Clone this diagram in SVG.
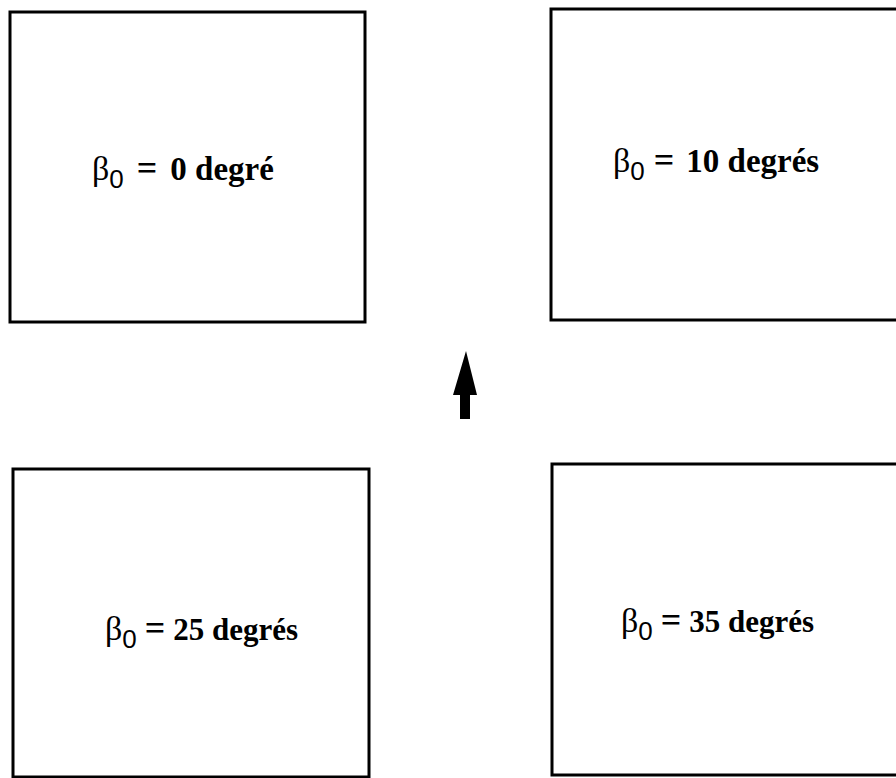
<svg xmlns="http://www.w3.org/2000/svg" width="896" height="778" viewBox="0 0 896 778">
<style>
.box{fill:none;stroke:#000;stroke-width:3}
.b{font-family:"Liberation Serif",serif;font-size:33px;font-weight:bold;fill:#000}
.s{font-size:31px}
.beta{font-weight:normal;font-size:34px}
.sub{font-family:"Liberation Sans",sans-serif;font-size:26px;font-weight:normal}
.eq{font-size:36px}
</style>
<rect width="896" height="778" fill="#fff"/>
<g id="node-0">
<rect class="box" x="10" y="12" width="355" height="310"/>
<text class="b" x="92" y="180"><tspan class="beta">β</tspan><tspan class="sub" dy="8">0</tspan><tspan class="eq" dx="13" dy="-8">=</tspan><tspan dx="13">0 degré</tspan></text>
</g>
<g id="node-10">
<rect class="box" x="551" y="9" width="360" height="311"/>
<text class="b" x="613" y="172"><tspan class="beta">β</tspan><tspan class="sub" dy="8">0</tspan><tspan class="eq" dx="9" dy="-8">=</tspan><tspan dx="12">10 degrés</tspan></text>
</g>
<g id="node-25">
<rect class="box" x="13" y="469" width="356" height="308"/>
<text class="b s" x="105" y="640"><tspan class="beta">β</tspan><tspan class="sub" dy="8">0</tspan><tspan class="eq" dx="8" dy="-8">=</tspan><tspan dx="8">25 degrés</tspan></text>
</g>
<g id="node-35">
<rect class="box" x="552" y="464" width="360" height="311"/>
<text class="b s" x="621" y="632"><tspan class="beta">β</tspan><tspan class="sub" dy="8">0</tspan><tspan class="eq" dx="8" dy="-8">=</tspan><tspan dx="8">35 degrés</tspan></text>
</g>
<g id="connectors">
<polygon points="466,351 453,395 460,395 460,419 470,419 470,395 477,395" fill="#000"/>
</g>
</svg>
